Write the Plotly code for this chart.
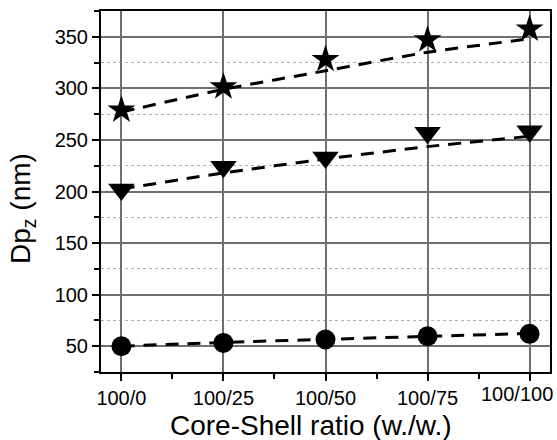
import plotly.graph_objects as go

categories = ["100/0", "100/25", "100/50", "100/75", "100/100"]
x_pos = [0, 1, 2, 3, 4]

star_vals = [279, 301.5, 328, 347, 357.5]
tri_vals = [202, 224, 233, 257, 258.5]
circ_vals = [50, 53.2, 56.5, 59.7, 62]

star_fit = [277, 299, 317, 335, 348]
tri_fit = [202.5, 218, 231.5, 243.5, 253.5]
circ_fit = [50, 53.7, 56.6, 59.6, 62.3]

y_ticks = [50, 100, 150, 200, 250, 300, 350]

W, H = 557, 440
ML, MR, MT, MB = 101, 7, 11, 68
PW, PH = W - ML - MR, H - MT - MB

FONT = "Arial, Liberation Sans, sans-serif"

# the last category label is drawn as an annotation nudged left so it stays inside the page
tick_labels = categories[:-1] + [""]

fig = go.Figure()

dash = "13px,9px"
for fit in (star_fit, tri_fit, circ_fit):
    fig.add_trace(go.Scatter(
        x=x_pos, y=fit, mode="lines",
        line=dict(color="black", width=3, dash=dash, shape="spline", smoothing=0.6),
        hoverinfo="skip", showlegend=False))

fig.add_trace(go.Scatter(x=x_pos, y=star_vals, mode="markers",
                         marker=dict(symbol="star", size=21, color="black", line=dict(width=0)),
                         showlegend=False))
fig.add_trace(go.Scatter(x=x_pos, y=tri_vals, mode="markers",
                         marker=dict(symbol="triangle-down", size=23, color="black", line=dict(width=0)),
                         showlegend=False))
fig.add_trace(go.Scatter(x=x_pos, y=circ_vals, mode="markers",
                         marker=dict(symbol="circle", size=20, color="black", line=dict(width=0)),
                         showlegend=False))

def px_to_paper_x(px):
    return (px - ML) / PW

def px_to_paper_y(py):
    return (H - MB - py) / PH

fig.update_layout(
    width=W, height=H,
    margin=dict(l=ML, r=MR, t=MT, b=MB, pad=0, autoexpand=False),
    paper_bgcolor="white", plot_bgcolor="white",
    font=dict(family=FONT, color="black", size=20),
    xaxis=dict(
        range=[-0.2, 4.2], tickvals=x_pos, ticktext=tick_labels,
        automargin=False,
        showline=True, linecolor="black", linewidth=2, mirror=True,
        ticks="outside", ticklen=7, tickwidth=1.5, tickcolor="black",
        showgrid=True, gridcolor="#707070", gridwidth=1.5,
        zeroline=False, tickfont=dict(size=20, family=FONT),
        minor=dict(tickvals=[0.5, 1.5, 2.5, 3.5], ticks="outside", ticklen=5,
                   tickwidth=1.5, tickcolor="black", showgrid=False),
    ),
    yaxis=dict(
        range=[25, 375], tickvals=y_ticks,
        automargin=False,
        showline=True, linecolor="black", linewidth=2, mirror=True,
        ticks="outside", ticklen=7, tickwidth=1.5, tickcolor="black",
        showgrid=True, gridcolor="#707070", gridwidth=1.5,
        zeroline=False, tickfont=dict(size=20, family=FONT),
        minor=dict(dtick=25, tick0=25, ticks="outside", ticklen=5, tickwidth=1.5,
                   tickcolor="black", showgrid=True, gridcolor="#b0b0b0",
                   gridwidth=1, griddash="dot"),
    ),
    annotations=[
        dict(text=categories[-1], xref="paper", yref="paper",
             x=px_to_paper_x(555), y=px_to_paper_y(394), xanchor="right", yanchor="middle",
             showarrow=False, font=dict(size=20, family=FONT, color="black")),
        dict(text="Core-Shell ratio (w./w.)", xref="paper", yref="paper",
             x=px_to_paper_x(311), y=px_to_paper_y(426), xanchor="center", yanchor="middle",
             showarrow=False, font=dict(size=28, family=FONT, color="black")),
        dict(text="Dp<sub>z</sub> (nm)", xref="paper", yref="paper",
             x=px_to_paper_x(22), y=px_to_paper_y(209), xanchor="center", yanchor="middle",
             textangle=-90, showarrow=False, font=dict(size=28, family=FONT, color="black")),
    ],
)

fig.write_html("out.html")
